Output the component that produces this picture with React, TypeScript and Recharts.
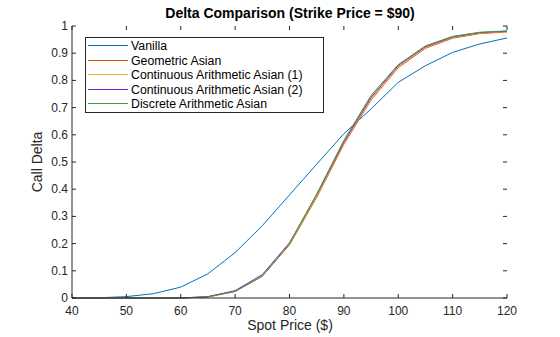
import { LineChart, Line, XAxis, YAxis } from "recharts"

const spot = [40, 45, 50, 55, 60, 65, 70, 75, 80, 85, 90, 95, 100, 105, 110, 115, 120]
const vanilla = [0, 0.001, 0.005, 0.016, 0.04, 0.089, 0.167, 0.266, 0.379, 0.492, 0.604, 0.695, 0.793, 0.854, 0.903, 0.934, 0.956]
const geometric = [0, 0, 0, 0, 0, 0.004, 0.024, 0.08, 0.195, 0.37, 0.565, 0.728, 0.847, 0.918, 0.955, 0.972, 0.978]
const contArith1 = [0, 0, 0, 0, 0, 0.005, 0.025, 0.082, 0.198, 0.375, 0.57, 0.733, 0.851, 0.921, 0.958, 0.974, 0.98]
const contArith2 = [0, 0, 0, 0, 0, 0.005, 0.027, 0.086, 0.203, 0.38, 0.574, 0.738, 0.855, 0.924, 0.96, 0.976, 0.981]
const discrete = [0, 0, 0, 0, 0, 0.004, 0.024, 0.08, 0.2, 0.382, 0.58, 0.745, 0.858, 0.927, 0.962, 0.977, 0.982]

const xTicks = [40, 50, 60, 70, 80, 90, 100, 110, 120]
const yTicks = [0, 0.1, 0.2, 0.3, 0.4, 0.5, 0.6, 0.7, 0.8, 0.9, 1]

const series = [
  { key: "vanilla", name: "Vanilla", color: "#0072BD" },
  { key: "geometric", name: "Geometric Asian", color: "#D95319" },
  { key: "cont1", name: "Continuous Arithmetic Asian (1)", color: "#EDB120" },
  { key: "cont2", name: "Continuous Arithmetic Asian (2)", color: "#7E1FD8" },
  { key: "discrete", name: "Discrete Arithmetic Asian", color: "#3FA03A" },
]

const data = spot.map((s, i) => ({
  spot: s,
  vanilla: vanilla[i],
  geometric: geometric[i],
  cont1: contArith1[i],
  cont2: contArith2[i],
  discrete: discrete[i],
}))

const FONT = "'Liberation Sans', Arial, Helvetica, sans-serif"
const AXIS = "#262626"
const TOP = 26
const BOTTOM = 298
const LEFT = 72
const RIGHT = 507
const TICK = 4

function XTick({ x, payload }: any) {
  return (
    <g>
      <line x1={x} y1={BOTTOM} x2={x} y2={BOTTOM - TICK} stroke={AXIS} />
      <line x1={x} y1={TOP} x2={x} y2={TOP + TICK} stroke={AXIS} />
      <text x={x} y={BOTTOM + 17} textAnchor="middle" fontSize={12} fill={AXIS} fontFamily={FONT}>
        {payload.value}
      </text>
    </g>
  )
}

function YTick({ y, payload }: any) {
  return (
    <g>
      <line x1={LEFT} y1={y} x2={LEFT + TICK} y2={y} stroke={AXIS} />
      <line x1={RIGHT} y1={y} x2={RIGHT - TICK} y2={y} stroke={AXIS} />
      <text x={LEFT - 4} y={y + 4} textAnchor="end" fontSize={12} fill={AXIS} fontFamily={FONT}>
        {payload.value}
      </text>
    </g>
  )
}

// legend box drawn in the svg, MATLAB style (north-west, inside axes)
function LegendBox() {
  return (
    <g>
      <rect x={85.5} y={37.5} width={238} height={75} fill="#fff" stroke={AXIS} strokeWidth={1} />
      {series.map((s, i) => {
        const cy = Math.round(45 + i * 14.5) + 0.5
        return (
          <g key={s.key}>
            <line x1={88} y1={cy} x2={128} y2={cy} stroke={s.color} strokeWidth={1} />
            <text x={131} y={cy + 4} fontSize={12.3} fill="#000" fontFamily={FONT}>
              {s.name}
            </text>
          </g>
        )
      })}
    </g>
  )
}

export default function App() {
  return (
    <div style={{ position: "absolute", left: 0, top: 0, width: 560, height: 337, background: "#fff" }}>
      <LineChart
        width={560}
        height={337}
        data={data}
        margin={{ top: TOP, right: 560 - RIGHT, bottom: 0, left: 0 }}
      >
        <text x={290} y={18} textAnchor="middle" fontSize={14} fontWeight="bold" fill="#000" fontFamily={FONT}>
          Delta Comparison (Strike Price = $90)
        </text>
        <text x={290} y={330} textAnchor="middle" fontSize={14} fill={AXIS} fontFamily={FONT}>
          Spot Price ($)
        </text>
        <text
          x={42}
          y={162}
          textAnchor="middle"
          fontSize={14}
          fill={AXIS}
          fontFamily={FONT}
          transform="rotate(-90 42 162)"
        >
          Call Delta
        </text>
        <XAxis
          dataKey="spot"
          type="number"
          domain={[40, 120]}
          ticks={xTicks}
          height={337 - BOTTOM}
          axisLine={{ stroke: AXIS }}
          tickLine={false}
          tick={<XTick />}
          interval={0}
        />
        <XAxis
          xAxisId="top"
          dataKey="spot"
          orientation="top"
          type="number"
          domain={[40, 120]}
          height={0}
          axisLine={{ stroke: AXIS }}
          tick={false}
          tickLine={false}
        />
        <YAxis
          type="number"
          domain={[0, 1]}
          ticks={yTicks}
          width={LEFT}
          axisLine={{ stroke: AXIS }}
          tickLine={false}
          tick={<YTick />}
          interval={0}
        />
        <YAxis
          yAxisId="right"
          orientation="right"
          type="number"
          domain={[0, 1]}
          width={0}
          axisLine={{ stroke: AXIS }}
          tick={false}
          tickLine={false}
        />
        {series.map((s) => (
          <Line
            key={s.key}
            dataKey={s.key}
            name={s.name}
            stroke={s.color}
            strokeWidth={1}
            dot={false}
            type="linear"
            isAnimationActive={false}
          />
        ))}
        <LegendBox />
      </LineChart>
    </div>
  )
}
